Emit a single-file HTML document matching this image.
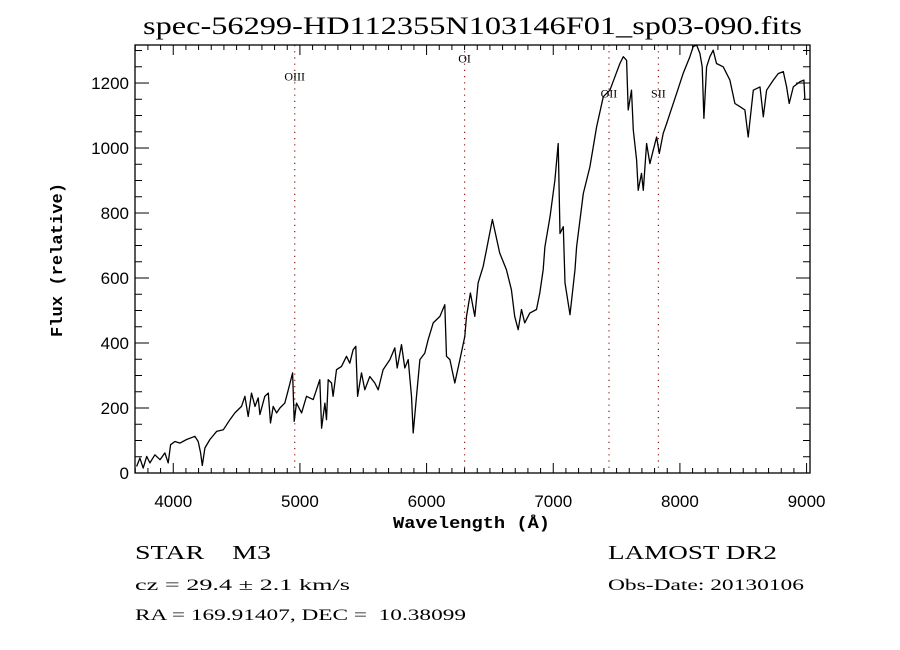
<!DOCTYPE html>
<html><head><meta charset="utf-8"><style>
html,body{margin:0;padding:0;background:#fff;width:900px;height:650px;overflow:hidden}
svg text{font-family:"Liberation Serif",serif;fill:#000}
.tk{font-family:"Liberation Sans",sans-serif;font-size:17px}
</style></head><body>
<svg id="chart" width="900" height="650" viewBox="0 0 900 650" xmlns="http://www.w3.org/2000/svg">
<rect width="900" height="650" fill="#fff"/>
<text x="143" y="34" font-size="25" textLength="659" lengthAdjust="spacingAndGlyphs">spec-56299-HD112355N103146F01_sp03-090.fits</text>
<g id="plot"></g>
<text x="393" y="528" font-size="17" textLength="157" lengthAdjust="spacingAndGlyphs" style="font-family:'Liberation Mono',monospace;font-weight:bold">Wavelength (Å)</text>
<text transform="translate(62,337) rotate(-90)" font-size="17" textLength="154" lengthAdjust="spacingAndGlyphs" style="font-family:'Liberation Mono',monospace;font-weight:bold">Flux (relative)</text>
<text x="135" y="559" font-size="20" xml:space="preserve" textLength="136" lengthAdjust="spacingAndGlyphs">STAR    M3</text>
<text x="135" y="590" font-size="16" textLength="215" lengthAdjust="spacingAndGlyphs">cz = 29.4 ± 2.1 km/s</text>
<text x="135" y="620" font-size="16" xml:space="preserve" textLength="331" lengthAdjust="spacingAndGlyphs">RA = 169.91407, DEC =  10.38099</text>
<text x="608" y="559" font-size="20" textLength="169" lengthAdjust="spacingAndGlyphs">LAMOST DR2</text>
<text x="608" y="590" font-size="16" textLength="196" lengthAdjust="spacingAndGlyphs">Obs-Date: 20130106</text>
</svg>
<script>
const wavelengths=[3711,3737,3763,3790,3816,3855,3895,3934,3960,3979,4013,4053,4105,4171,4197,4216,4229,4250,4289,4342,4395,4447,4487,4539,4566,4592,4618,4645,4671,4684,4723,4750,4768,4789,4816,4842,4881,4908,4942,4955,4973,5013,5052,5105,5157,5171,5197,5210,5223,5249,5262,5289,5328,5368,5394,5420,5441,5455,5486,5512,5552,5591,5618,5657,5710,5749,5768,5802,5828,5855,5881,5894,5920,5947,5986,6012,6052,6105,6144,6157,6184,6223,6263,6302,6315,6346,6381,6407,6447,6473,6520,6577,6630,6670,6696,6723,6749,6775,6815,6868,6894,6921,6934,6974,7013,7039,7053,7079,7093,7132,7172,7184,7237,7289,7342,7395,7447,7487,7526,7553,7579,7592,7618,7632,7658,7671,7697,7711,7737,7763,7789,7816,7837,7868,7895,7921,7974,8026,8079,8105,8132,8158,8176,8189,8211,8237,8263,8289,8342,8395,8434,8474,8513,8539,8579,8632,8658,8684,8737,8776,8816,8842,8863,8895,8947,8979,8987];
const fluxes=[20,46,15,51,31,56,41,62,31,87,97,92,103,113,97,62,23,77,103,128,133,164,185,205,236,174,246,205,231,180,236,246,154,205,185,200,215,256,308,159,215,185,236,226,287,138,215,164,287,277,236,318,328,359,338,379,390,236,308,256,297,277,256,318,349,385,323,395,323,349,236,123,236,349,369,410,462,482,518,359,349,277,349,420,482,554,482,585,636,687,780,677,626,564,482,441,503,462,492,503,554,626,696,788,901,1014,737,758,585,487,626,696,860,942,1065,1158,1178,1219,1260,1281,1270,1117,1178,1055,963,870,922,870,1014,952,993,1034,983,1045,1075,1106,1168,1230,1281,1312,1317,1291,1250,1091,1250,1281,1301,1260,1250,1209,1137,1127,1117,1034,1178,1188,1096,1178,1209,1229,1235,1188,1137,1188,1204,1209,1148];
const xTicks=[4000,5000,6000,7000,8000,9000];
const yTicks=[0,200,400,600,800,1000,1200];
const lineNames=["OIII","OI","OII","SII"];
const lineWaves=[4959,6300,7440,7830];
const lineLabelFlux=[1208,1263,1155,1155];

const L=135,R=810,T=45,B=473,X0=3698,X1=9027,Y0=0,Y1=1317;
const sx=w=>L+(w-X0)/(X1-X0)*(R-L);
const sy=f=>B-(f-Y0)/(Y1-Y0)*(B-T);
const NS="http://www.w3.org/2000/svg";
const g=document.getElementById('plot');
function mk(t,a){const e=document.createElementNS(NS,t);for(const k in a)e.setAttribute(k,a[k]);g.appendChild(e);return e;}

lineWaves.forEach((w,i)=>{
  const ln=mk('line',{x1:sx(w),x2:sx(w),y1:T,y2:B,stroke:'#8b1a1a','stroke-width':1.2,'stroke-dasharray':'1.2,5'});
  
  
  const t=mk('text',{x:sx(w),y:sy(lineLabelFlux[i]),'text-anchor':'middle','font-size':12});
  t.textContent=lineNames[i];
  
  
});

const d=wavelengths.map((w,i)=>(i?'L':'M')+sx(w).toFixed(1)+','+sy(fluxes[i]).toFixed(1)).join('');
const p=mk('path',{d:d,fill:'none',stroke:'#000','stroke-width':1.3,'stroke-linejoin':'round'});



const fr=mk('rect',{x:L,y:T,width:R-L,height:B-T,fill:'none',stroke:'#000','stroke-width':1.3});



for(let w=3700;w<=9000;w+=100){const x=sx(w);const maj=w%1000===0;const len=maj?10:5;
  mk('line',{x1:x,x2:x,y1:B,y2:B-len,stroke:'#000'});mk('line',{x1:x,x2:x,y1:T,y2:T+len,stroke:'#000'});}
for(let f=0;f<=1300;f+=50){const y=sy(f);const maj=f%200===0;const len=maj?14:7;
  mk('line',{x1:L,x2:L+len,y1:y,y2:y,stroke:'#000'});mk('line',{x1:R,x2:R-len,y1:y,y2:y,stroke:'#000'});}

xTicks.forEach(v=>{const t=mk('text',{x:sx(v),y:B+34,'text-anchor':'middle','class':'tk'});t.textContent=v;
  
  });
yTicks.forEach(v=>{const t=mk('text',{x:L-6,y:sy(v)+6,'text-anchor':'end','class':'tk'});t.textContent=v;
  
  });
</script>
</body></html>
